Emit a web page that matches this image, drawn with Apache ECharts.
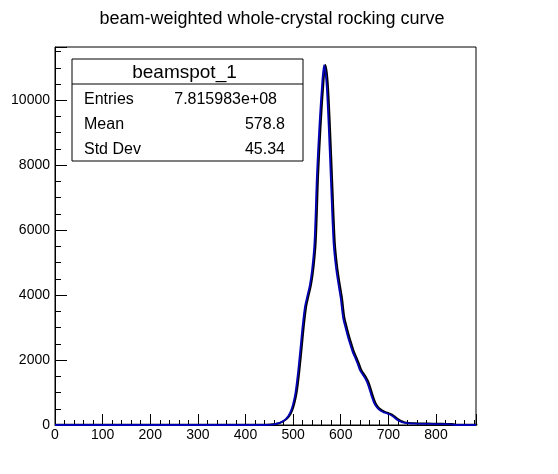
<!DOCTYPE html>
<html>
<head>
<meta charset="utf-8">
<script src="https://cdn.jsdelivr.net/npm/echarts@6/dist/echarts.min.js"></script>
<style>
  html, body { margin: 0; padding: 0; background: #fff; }
  #main { width: 558px; height: 474px; }
</style>
</head>
<body>
<div id="main"></div>
<script>
// rocking curve (x = channel, y = counts)
var rockX = [0, 440, 450, 460, 470, 475, 480, 485, 490, 495, 500, 505, 510, 515, 520, 525, 530, 535, 540, 545,
  550, 555, 560, 565, 570, 575, 580, 585, 590, 595, 600, 605, 610, 615, 620, 625, 630, 635, 640, 645,
  650, 655, 660, 665, 670, 675, 680, 685, 690, 695, 700, 705, 710, 715, 720, 725, 730, 740, 750, 760,
  780, 800, 820, 830, 840, 884];
var rockY = [0, 0, 5, 20, 55, 90, 130, 190, 280, 420, 650, 1000, 1580, 2300, 3050, 3650, 3980, 4300, 4800, 5650,
  7700, 9150, 10300, 11080, 10550, 9100, 7300, 5600, 4850, 4350, 3900, 3300, 3000, 2720, 2480, 2250, 2080, 1900, 1700, 1580,
  1470, 1330, 1120, 880, 680, 560, 480, 430, 390, 370, 340, 310, 260, 200, 150, 110, 80, 55, 45, 40,
  35, 30, 25, 20, 0, 0];

var chartTitle = 'beam-weighted whole-crystal rocking curve';
var statTitle = 'beamspot_1';
var statNames = ['Entries', 'Mean', 'Std Dev'];
var statValues = ['7.815983e+08', '578.8', '45.34'];

var xMax = 884;
var yMax = 11640;

var points = rockX.map(function (x, i) { return [x, rockY[i]]; });

var font = 'Liberation Sans, Arial, Helvetica, sans-serif';

// stats box
var boxL = 72, boxT = 59, boxW = 231, boxH = 102, headH = 25, rowH = 25;
var graphics = [
  { type: 'rect', shape: { x: boxL, y: boxT, width: boxW, height: boxH },
    style: { fill: '#fff', stroke: '#000', lineWidth: 1 }, z: 100 },
  { type: 'line', shape: { x1: boxL, y1: boxT + headH, x2: boxL + boxW, y2: boxT + headH },
    style: { stroke: '#000', lineWidth: 1 }, z: 101 },
  { type: 'text', x: boxL + boxW / 2 - 3, y: boxT + headH / 2 + 1, z: 101,
    style: { text: statTitle, font: '19px ' + font, fill: '#000', textAlign: 'center', textVerticalAlign: 'middle' } }
];
statNames.forEach(function (name, i) {
  var cy = boxT + headH + rowH * i + rowH / 2 + 3;
  graphics.push({ type: 'text', x: boxL + 12, y: cy, z: 101,
    style: { text: name, font: '16px ' + font, fill: '#000', textAlign: 'left', textVerticalAlign: 'middle' } });
  graphics.push({ type: 'text', x: i === 0 ? boxL + 205 : boxL + 213, y: cy, z: 101,
    style: { text: statValues[i], font: '16px ' + font, fill: '#000', textAlign: 'right', textVerticalAlign: 'middle' } });
});

var chart = echarts.init(document.getElementById('main'));
chart.setOption({
  animation: false,
  backgroundColor: '#fff',
  title: {
    text: chartTitle,
    left: 267,
    top: 5,
    textAlign: 'center',
    textStyle: { fontFamily: font, fontSize: 18, fontWeight: 'normal', color: '#000' }
  },
  grid: {
    left: 55, right: 82, top: 47, bottom: 49,
    show: true, borderColor: '#000', borderWidth: 1, backgroundColor: 'transparent'
  },
  xAxis: {
    type: 'value',
    min: 0, max: xMax, interval: 100,
    axisLine: { lineStyle: { color: '#000', width: 1 } },
    axisTick: { inside: true, length: 11, lineStyle: { color: '#000' } },
    minorTick: { show: true, splitNumber: 5, length: 5, lineStyle: { color: '#000' } },
    splitLine: { show: false },
    axisLabel: { color: '#000', fontFamily: font, fontSize: 14, margin: 3, showMaxLabel: false,
      formatter: function (v) { return String(v); } }
  },
  yAxis: {
    type: 'value',
    min: 0, max: yMax, interval: 2000,
    axisLine: { show: true, lineStyle: { color: '#000', width: 1 } },
    axisTick: { show: true, inside: true, length: 12, lineStyle: { color: '#000' } },
    minorTick: { show: true, splitNumber: 4, length: 6, lineStyle: { color: '#000' } },
    splitLine: { show: false },
    axisLabel: { color: '#000', fontFamily: font, fontSize: 14, margin: 5, showMaxLabel: false,
      formatter: function (v) { return String(v); } }
  },
  series: [{
    type: 'line',
    data: points,
    showSymbol: false,
    smooth: 0.3,
    lineStyle: {
      color: '#0000b4', width: 1.8,
      shadowColor: '#000', shadowBlur: 0, shadowOffsetX: 1.3, shadowOffsetY: -0.4
    },
    z: 5
  }],
  graphic: graphics
});
</script>
</body>
</html>
